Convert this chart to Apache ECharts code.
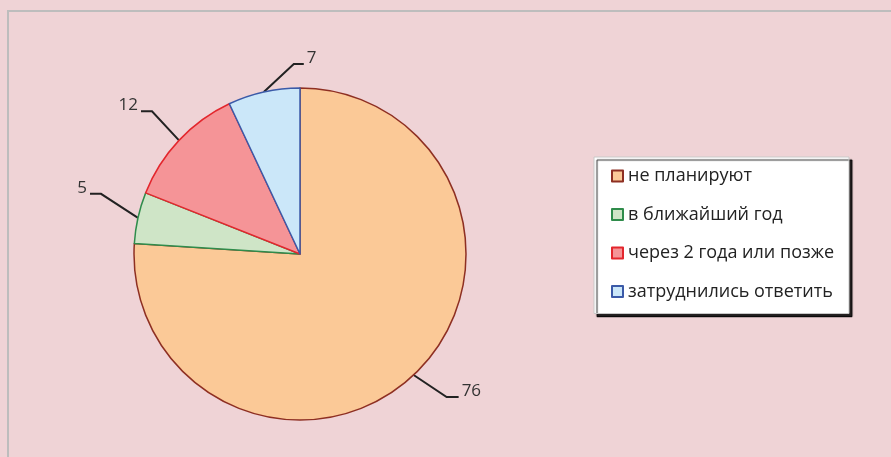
<!DOCTYPE html>
<html>
<head>
<meta charset="utf-8">
<script src="https://cdn.jsdelivr.net/npm/echarts@6/dist/echarts.min.js"></script>
<style>
html, body { margin: 0; padding: 0; background: #EFD3D6; }
#frame {
  position: absolute; left: 7px; top: 10px; right: 0; bottom: 0;
  border-top: 2px solid #BDBDBD; border-left: 2px solid #BDBDBD;
}
#main { position: absolute; left: 0; top: 0; width: 891px; height: 457px; }
</style>
</head>
<body>
<div id="frame"></div>
<div id="main"></div>
<script>
// данные диаграммы
const categories = ['не планируют', 'в ближайший год', 'через 2 года или позже', 'затруднились ответить'];
const values = [76, 5, 12, 7];
const fillColors = ['#FBC997', '#CFE5C7', '#F59497', '#CBE7F9'];
const borderColors = ['#8E2F22', '#2F8C4B', '#E3262D', '#3B5AA8'];

// смещения выносок от края сектора: [dx, dy, горизонтальный хвост]
const labelOffsets = [[33, 22, 12], [-37, -24, -11], [-27, -29, -11], [30, -28, 10]];

let myChart = echarts.init(document.getElementById('main'));
myChart.setOption({
  animation: false,
  legend: {
    orient: 'vertical',
    left: 594,
    top: 157,
    padding: [10, 15, 13, 17],
    itemGap: 20.5,
    itemWidth: 11,
    itemHeight: 11,
    icon: 'rect',
    backgroundColor: '#FFFFFF',
    borderColor: '#C8C8C8',
    borderWidth: 1,
    shadowColor: 'rgba(0,0,0,0.85)',
    shadowOffsetX: 3,
    shadowOffsetY: 3,
    shadowBlur: 1,
    textStyle: { fontFamily: 'Open Sans', fontSize: 18, lineHeight: 18, color: '#222' },
    data: categories
  },
  series: [
    {
      type: 'pie',
      center: [300, 254],
      radius: 166,
      startAngle: 90,
      clockwise: true,
      label: {
        show: true,
        formatter: '{c}',
        fontFamily: 'Open Sans',
        fontSize: 17,
        color: '#333'
      },
      labelLine: {
        show: true,
        length: 30,
        length2: 12,
        lineStyle: { color: '#222', width: 2 }
      },
      labelLayout: function (params) {
        const p0 = params.labelLinePoints[0];
        const o = labelOffsets[params.dataIndex];
        const p1 = [p0[0] + o[0], p0[1] + o[1]];
        const p2 = [p1[0] + o[2], p1[1]];
        return {
          x: p2[0] + (o[2] > 0 ? 3 : -3),
          y: p2[1] - 6,
          align: o[2] > 0 ? 'left' : 'right',
          verticalAlign: 'middle',
          labelLinePoints: [p0, p1, p2]
        };
      },
      data: categories.map((name, i) => ({
        name: name,
        value: values[i],
        itemStyle: { color: fillColors[i], borderColor: borderColors[i], borderWidth: 1.5 }
      }))
    }
  ]
});
</script>
</body>
</html>
